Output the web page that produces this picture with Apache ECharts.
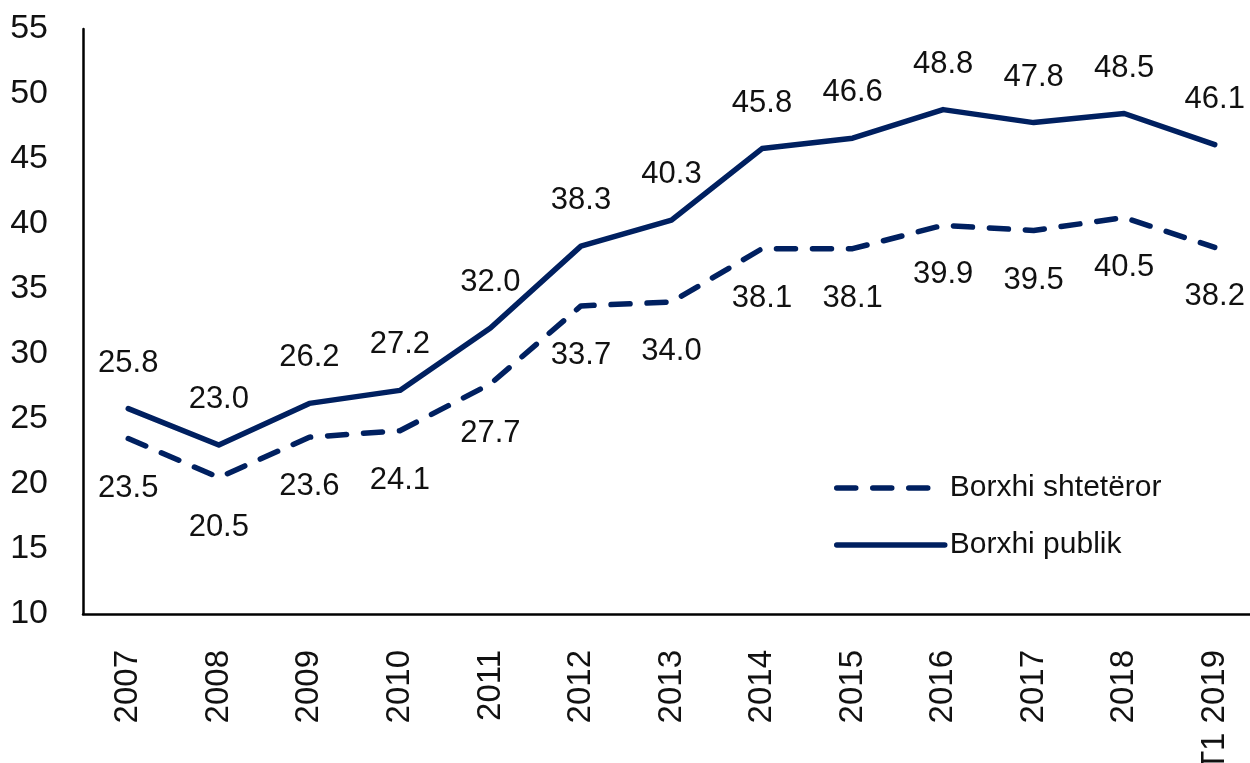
<!DOCTYPE html>
<html>
<head>
<meta charset="utf-8">
<script src="https://cdn.jsdelivr.net/npm/echarts@6/dist/echarts.min.js"></script>
<style>
  html, body { margin: 0; padding: 0; background: #fff; }
  #chart { width: 1250px; height: 763px; }
</style>
</head>
<body>
<div id="chart"></div>
<script>
// kategorite (vitet)
const years = ['2007', '2008', '2009', '2010', '2011', '2012', '2013', '2014', '2015', '2016', '2017', '2018', 'T1 2019'];
// borxhi publik, % e PBB
const borxhiPublik = [25.8, 23.0, 26.2, 27.2, 32.0, 38.3, 40.3, 45.8, 46.6, 48.8, 47.8, 48.5, 46.1];
// borxhi shteteror, % e PBB
const borxhiShteteror = [23.5, 20.5, 23.6, 24.1, 27.7, 33.7, 34.0, 38.1, 38.1, 39.9, 39.5, 40.5, 38.2];

const font = "'Liberation Sans Narrow', 'Arial Narrow', 'Liberation Sans', sans-serif";
const navy = '#002060';
const textColor = '#111';

const myChart = echarts.init(document.getElementById('chart'));
const option = {
  animation: false,
  textStyle: { fontFamily: font, color: textColor },
  grid: { left: 83, top: 29, bottom: 149, right: -10, outerBoundsMode: 'none', containLabel: false },
  legend: {
    orient: 'vertical',
    left: 829,
    top: 468,
    itemWidth: 108,
    itemHeight: 20,
    itemGap: 27,
    itemStyle: { opacity: 0 },
    lineStyle: { width: 5.5, cap: 'round' },
    textStyle: { fontSize: 30, color: textColor, fontFamily: font },
    data: ['Borxhi shtetëror', 'Borxhi publik']
  },
  xAxis: {
    type: 'category',
    data: years,
    boundaryGap: true,
    axisLine: { lineStyle: { color: '#000', width: 2.5 } },
    axisTick: { show: false },
    axisLabel: { rotate: 90, fontSize: 33, margin: 36, color: textColor, interval: 0 }
  },
  yAxis: {
    type: 'value',
    min: 10,
    max: 55,
    interval: 5,
    splitLine: { show: false },
    axisLine: { show: true, lineStyle: { color: '#000', width: 2.5 } },
    axisTick: { show: false },
    axisLabel: { fontSize: 34, margin: 35, color: textColor }
  },
  series: [
    {
      name: 'Borxhi shtetëror',
      type: 'line',
      data: borxhiShteteror,
      symbol: 'circle',
      symbolSize: 0,
      showSymbol: true,
      lineStyle: { color: navy, width: 5.5, type: [19, 17], cap: 'round', join: 'round' },
      itemStyle: { color: navy },
      label: {
        show: true,
        position: 'bottom',
        distance: 34,
        fontSize: 31,
        color: textColor,
        formatter: p => p.value.toFixed(1)
      }
    },
    {
      name: 'Borxhi publik',
      type: 'line',
      data: borxhiPublik,
      symbol: 'circle',
      symbolSize: 0,
      showSymbol: true,
      lineStyle: { color: navy, width: 5.5, cap: 'round', join: 'round' },
      itemStyle: { color: navy },
      label: {
        show: true,
        position: 'top',
        distance: 30,
        fontSize: 31,
        color: textColor,
        formatter: p => p.value.toFixed(1)
      }
    }
  ]
};
myChart.setOption(option);
</script>
</body>
</html>
